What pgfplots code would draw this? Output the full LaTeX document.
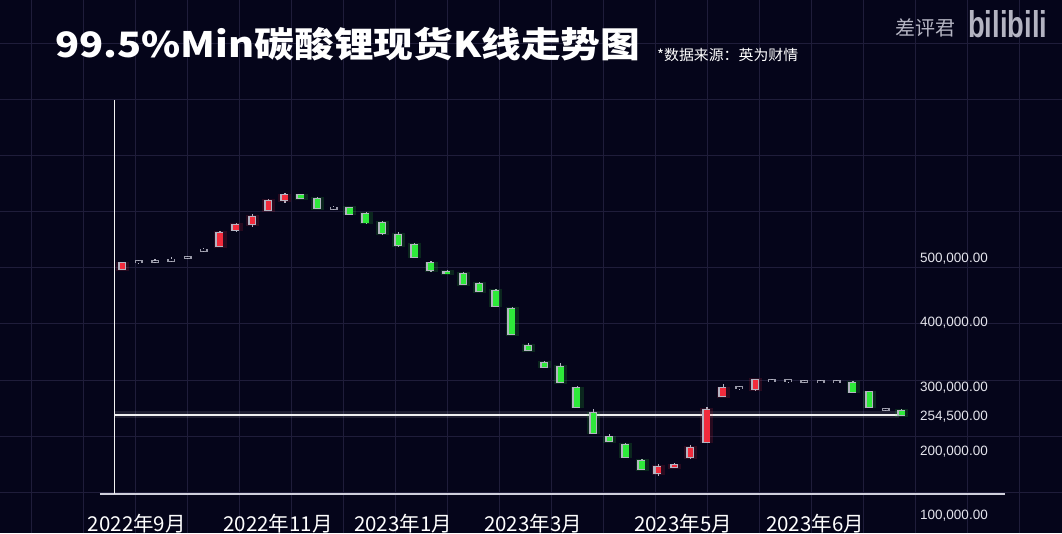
\documentclass[border=0pt]{standalone}
\usepackage{pgfplots}
\pgfplotsset{compat=1.18}
\usepackage{pgfplotstable}
\usepackage{graphicx}
\usepackage{fontspec}
\setmainfont{Liberation Sans}
\newfontfamily\cjk{Noto Sans CJK SC}

\definecolor{bg}{HTML}{05051A}
\definecolor{gridc}{HTML}{1F1D3A}
\definecolor{cred}{HTML}{F22B3C}
\definecolor{cgreen}{HTML}{2EEA3A}
\definecolor{cedge}{HTML}{B4B4C2}
\definecolor{axc}{HTML}{D0D0DC}
\definecolor{lbl}{HTML}{E4E4EC}

% red = rising candles (x o c h l)
\pgfplotstableread{
x o c h l
0 482000 491000 493000 480000
6 518000 538000 541000 517000
7 543000 551000 554000 540000
8 552000 563000 568000 548000
9 574000 588000 591000 572000
10 589600 597000 600500 585000
33 163500 173800 178000 159300
34 173000 176000 180000 172000
35 188400 203400 207000 186000
36 212700 262200 267300 211000
37 284000 296000 302000 282000
39 294400 308900 311000 292000
}\redtab

% green = falling candles
\pgfplotstableread{
x o c h l
11 597000 592000 599000 591000
12 591200 577100 594000 575000
14 577000 568000 579000 566000
15 568000 554500 571000 552000
16 554000 538000 557000 535000
17 535000 519500 539000 517000
18 519500 501200 523000 499000
19 491000 480500 494000 478000
20 478000 475000 480000 474000
21 474200 458600 478000 457000
22 458600 447700 462000 446000
23 447700 424800 451000 423000
24 419700 380700 422000 379000
25 362400 355700 366000 354000
26 336000 329700 339000 327000
27 329700 305400 335000 304000
28 296000 267300 299000 265000
29 257000 227000 263000 226000
30 219600 213800 224000 212000
31 207600 189300 210000 187000
32 183100 169700 186000 168000
45 304700 290700 308000 289000
46 289800 267300 292000 265000
48 260600 254500 263000 253000
}\greentab

% near-flat candles
\pgfplotstableread{
x o c h l
1 492000 494000 495500 491000
2 493000 495000 497500 492000
3 495000 497000 501000 494000
4 499000 501000 502500 497500
5 510500 512500 514000 510000
13 576000 578000 579500 574500
38 296000 298000 300000 294000
40 307000 309000 310500 306000
41 306500 308500 309500 305500
42 306000 308000 309500 305000
43 305500 307500 309000 305000
44 305500 307500 309000 305000
47 262500 264500 266000 261500
}\dojitab

\pgfplotsset{
  wick/.style={draw=none, mark=none, forget plot,
    error bars/.cd, y dir=both, y explicit, error mark=none,
    error bar style={line width=1.2pt, draw=cedge, solid}},
  bodyst/.style={draw=none, mark=none, forget plot,
    error bars/.cd, y dir=both, y explicit, error mark=none,
    error bar style={#1, solid}},
}

\begin{document}
\begin{tikzpicture}
\useasboundingbox (0,0) rectangle (1062pt,533pt);
\fill[bg] (0,0) rectangle (1062pt,533pt);
% background grid
\foreach \gx in {31,83,...,1019} {\draw[gridc, line width=1pt] (\gx pt,0) -- (\gx pt,533pt);}
\foreach \gy in {41,97,...,489} {\draw[gridc, line width=1pt] (0,\gy pt) -- (1062pt,\gy pt);}

% title
\node[anchor=west, inner sep=0pt, text=white] at (55pt,489pt)
  {\resizebox{585pt}{\height}{\cjk\bfseries\fontsize{35}{40}\selectfont 99.5\%Min碳酸锂现货K线走势图}};
\node[anchor=west, inner sep=0pt, text=white] at (657pt,477.5pt)
  {\resizebox{141pt}{\height}{\cjk\fontsize{14.5}{16}\selectfont *数据来源：英为财情}};
\node[anchor=west, inner sep=0pt, text=cedge] at (895pt,505.5pt)
  {\cjk\fontsize{20}{22}\selectfont 差评君};
\node[anchor=west, inner sep=0pt, text=cedge] at (968pt,509pt)
  {\resizebox{79pt}{27pt}{\bfseries\fontsize{28}{30}\selectfont bilibili}};

\begin{axis}[
  at={(114.5pt,39pt)}, anchor=south west,
  scale only axis, width=790.5pt, height=394pt,
  xmin=-0.5, xmax=48.2, ymin=131200, ymax=745500,
  clip=false,
  scaled y ticks=false,
  axis line style={draw=none},
  major tick length=0pt, tick style={draw=none},
  xtick={0.88,9.57,17.27,25.28,34.52,42.66},
  xticklabels={2022年9月,2022年11月,2023年1月,2023年3月,2023年5月,2023年6月},
  xticklabel style={font=\cjk\fontsize{20.5}{22}\selectfont, text=white, anchor=base, yshift=-37.5pt},
  ytick={200000,254500,300000,400000,500000},
  yticklabels={{200,000.00},{254,500.00},{300,000.00},{400,000.00},{500,000.00}},
  yticklabel pos=right,
  yticklabel style={font=\fontsize{13.5}{15}\selectfont, text=lbl, anchor=west, inner sep=0pt, xshift=15pt, yshift=-1.5pt},
]
% reference line at 254,500
\addplot[forget plot, line width=7pt, white, opacity=0.10] coordinates {(-0.5,254500) (47.8,254500)};
\addplot[forget plot, line width=2.2pt, color=white!88!gray] coordinates {(-0.5,254500) (47.8,254500)};

% wicks
\addplot[wick] table[x=x, y=o, y error plus expr=\thisrow{h}-\thisrow{o}, y error minus expr=\thisrow{o}-\thisrow{l}] {\redtab};
\addplot[wick] table[x=x, y=o, y error plus expr=\thisrow{h}-\thisrow{o}, y error minus expr=\thisrow{o}-\thisrow{l}] {\greentab};
\addplot[wick] table[x=x, y=o, y error plus expr=\thisrow{h}-\thisrow{o}, y error minus expr=\thisrow{o}-\thisrow{l}] {\dojitab};

% glow
\addplot[bodyst={line width=13pt, draw=cred, opacity=0.15}] table[x=x, y expr={(\thisrow{o}+\thisrow{c})/2}, y error expr={abs(\thisrow{o}-\thisrow{c})/2+2500}] {\redtab};
\addplot[bodyst={line width=13pt, draw=cgreen, opacity=0.15}] table[x=x, y expr={(\thisrow{o}+\thisrow{c})/2}, y error expr={abs(\thisrow{o}-\thisrow{c})/2+2500}] {\greentab};

% edges
\addplot[bodyst={line width=8pt, draw=cedge, xshift=-0.8pt}] table[x=x, y expr={(\thisrow{o}+\thisrow{c})/2}, y error expr={abs(\thisrow{o}-\thisrow{c})/2+1500}] {\redtab};
\addplot[bodyst={line width=8pt, draw=cedge, xshift=-0.8pt}] table[x=x, y expr={(\thisrow{o}+\thisrow{c})/2}, y error expr={abs(\thisrow{o}-\thisrow{c})/2+1500}] {\greentab};
% hollow flat candles
\addplot[bodyst={line width=8pt, draw=cedge, opacity=0.85}] table[x=x, y expr={(\thisrow{o}+\thisrow{c})/2}, y error expr={abs(\thisrow{o}-\thisrow{c})/2+1300}] {\dojitab};
\addplot[bodyst={line width=5pt, draw=bg}] table[x=x, y expr={(\thisrow{o}+\thisrow{c})/2}, y error expr={abs(\thisrow{o}-\thisrow{c})/2}] {\dojitab};

% bodies
\addplot[bodyst={line width=5.5pt, draw=cred}] table[x=x, y expr={(\thisrow{o}+\thisrow{c})/2}, y error expr={abs(\thisrow{o}-\thisrow{c})/2}] {\redtab};
\addplot[bodyst={line width=5.5pt, draw=cgreen}] table[x=x, y expr={(\thisrow{o}+\thisrow{c})/2}, y error expr={abs(\thisrow{o}-\thisrow{c})/2}] {\greentab};

% axis lines
\draw[axc, line width=2pt] (axis cs:-1.4,131200) -- (axis cs:54.36,131200);
\draw[white!90!gray, line width=1.8pt] (axis cs:-0.5,131200) -- (axis cs:-0.5,745500);
\node[anchor=west, inner sep=0pt, xshift=15pt, yshift=-1.5pt, text=lbl, font=\fontsize{13.5}{15}\selectfont] at (axis cs:48.2,100000) {100,000.00};
\end{axis}
\end{tikzpicture}
\end{document}
